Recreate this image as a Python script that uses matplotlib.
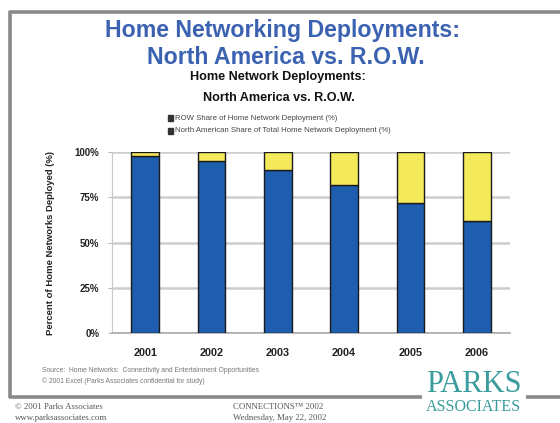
import matplotlib.pyplot as plt
from matplotlib.lines import Line2D
from matplotlib.patches import Rectangle
import numpy as np

anos = ['2001', '2002', '2003', '2004', '2005', '2006']
na_share = [98, 95, 90, 82, 72, 62]      # North American share (%)
row_share = [2, 5, 10, 18, 28, 38]       # ROW share (%)
yticks = [0, 25, 50, 75, 100]
ytick_labels = ['0%', '25%', '50%', '75%', '100%']

azul = '#1f5eae'
amarelo = '#f4e95b'
titulo_cor = '#3b62b0'
logo_cor = '#3a9c9c'

plt.rcParams['font.family'] = ['Liberation Sans', 'DejaVu Sans']

W, H = 560, 423
fig = plt.figure(figsize=(W / 100, H / 100), dpi=100)
fig.patch.set_facecolor('white')

def fx(px):
    return px / W

def fy(py):
    return 1 - py / H

# moldura do slide
cinza = '#8a8a8a'
for (x0, y0, x1, y1) in [(9, 12, 560, 12), (10, 11, 10, 398), (9, 397, 422, 397), (526, 397, 560, 397)]:
    fig.add_artist(Line2D([fx(x0), fx(x1)], [fy(y0), fy(y1)], color=cinza, lw=2.6,
                          solid_capstyle='butt'))

# titulos
fig.text(0.505, fy(30), 'Home Networking Deployments:', ha='center', va='center',
         fontsize=16.7, fontweight='bold', color=titulo_cor)
fig.text(0.51, fy(57), 'North America vs. R.O.W.', ha='center', va='center',
         fontsize=16.7, fontweight='bold', color=titulo_cor)
fig.text(0.497, fy(77), 'Home Network Deployments:', ha='center', va='center',
         fontsize=9.1, fontweight='bold', color='#111111')
fig.text(0.497, fy(98), 'North America vs. R.O.W.', ha='center', va='center',
         fontsize=9.1, fontweight='bold', color='#111111')

# legenda
leg_itens = ['ROW Share of Home Network Deployment (%)',
             'North American Share of Total Home Network Deployment (%)']
for i, txt in enumerate(leg_itens):
    yy = fy(118 + 13 * i)
    fig.add_artist(Rectangle((fx(168), yy - 0.007), fx(5), 0.014, color='#333333'))
    fig.text(fx(175), yy, txt, ha='left', va='center', fontsize=5.6, color='#444444')

# grafico
ax = fig.add_axes([fx(112), fy(333), fx(510) - fx(112), fy(152) - fy(333)])
x = np.arange(len(anos))
ax.bar(x, na_share, width=0.42, color=azul, edgecolor='#1a1a1a', linewidth=1.0, zorder=3)
ax.bar(x, row_share, width=0.42, bottom=na_share, color=amarelo, edgecolor='#1a1a1a',
       linewidth=1.0, zorder=3)
ax.set_xlim(-0.5, len(anos) - 0.5)
ax.set_ylim(0, 100)
ax.set_yticks(yticks)
ax.set_yticklabels(ytick_labels, fontsize=7, fontweight='bold', color='#222222')
ax.set_xticks(x)
ax.set_xticklabels(anos, fontsize=7.8, fontweight='bold', color='#222222')
ax.tick_params(axis='y', length=3, color='#bbbbbb', pad=6)
ax.tick_params(axis='x', length=0, pad=11)
ax.yaxis.grid(True, color='#cdcdcd', lw=1.8, zorder=0)
for s in ['top', 'right']:
    ax.spines[s].set_visible(False)
ax.spines['left'].set_color('#c8c8c8')
ax.spines['bottom'].set_color('#aaaaaa')
ax.spines['bottom'].set_linewidth(1.2)
ax.set_ylabel('Percent of Home Networks Deployed (%)', fontsize=6.8, fontweight='bold',
              color='#222222', labelpad=14)

# fonte
fig.text(fx(42), fy(370), 'Source:  Home Networks:  Connectivity and Entertainment Opportunities',
         fontsize=4.9, color='#777777', va='center')
fig.text(fx(42), fy(381), '\u00a9 2001 Excel (Parks Associates confidential for study)',
         fontsize=4.9, color='#777777', va='center')

# rodape
fig.text(fx(15), fy(407), '\u00a9 2001 Parks Associates', fontsize=6.3, color='#555555',
         va='center', family='Liberation Serif')
fig.text(fx(15), fy(418), 'www.parksassociates.com', fontsize=6.3, color='#555555',
         va='center', family='Liberation Serif')
fig.text(fx(233), fy(407), 'CONNECTIONS\u2122 2002', fontsize=6.3, color='#555555',
         va='center', family='Liberation Serif')
fig.text(fx(233), fy(418), 'Wednesday, May 22, 2002', fontsize=6.3, color='#555555',
         va='center', family='Liberation Serif')

# logo
fig.text(fx(474), fy(384), 'PARKS', ha='center', va='center', fontsize=22,
         color=logo_cor, family='Liberation Serif')
fig.text(fx(473), fy(407), 'ASSOCIATES', ha='center', va='center', fontsize=11.5,
         color=logo_cor, family='Liberation Serif')

fig.savefig('out.png', dpi=100)
